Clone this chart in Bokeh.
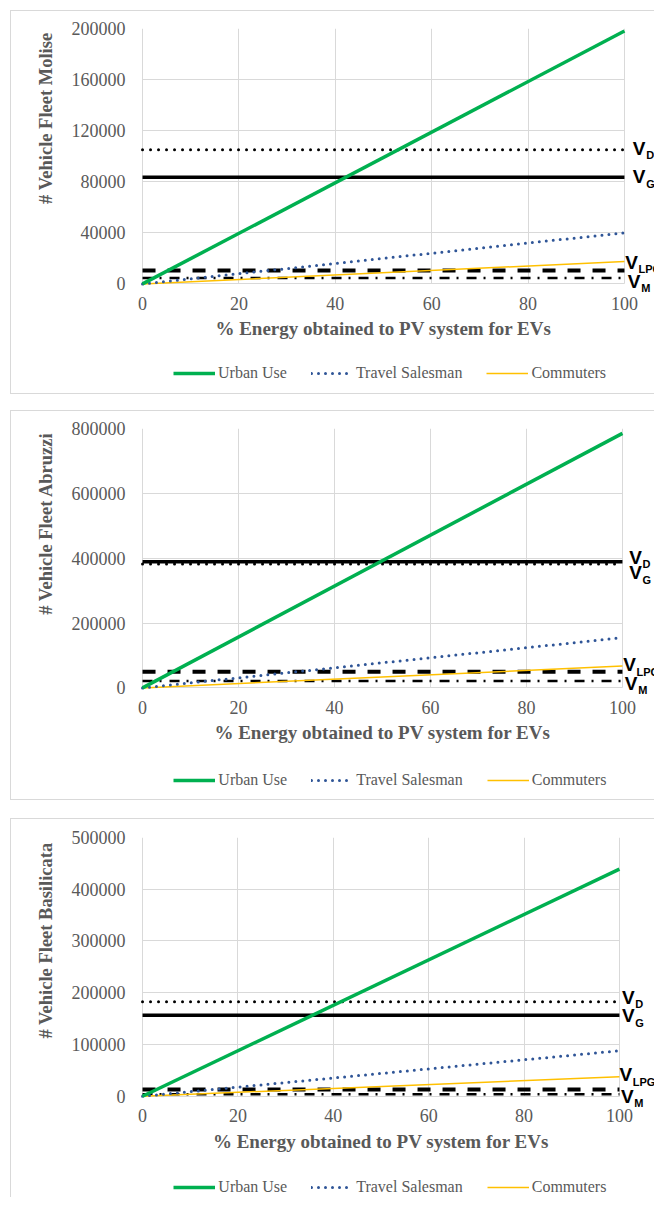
from bokeh.plotting import figure
from bokeh.models import Range1d, FixedTicker, Label, Legend, LegendItem, Title
from bokeh.layouts import column
from bokeh.embed import file_html
from bokeh.resources import INLINE

# ---------------- data ----------------
x_pct = [0, 100]
x_ticks = [0, 20, 40, 60, 80, 100]

regions = ["Molise", "Abruzzi", "Basilicata"]
urban_use = [[0, 198000], [0, 785000], [0, 439000]]
travel_salesman = [[0, 40000], [0, 155000], [0, 88000]]
commuters = [[0, 17500], [0, 67500], [0, 37500]]
v_diesel = [105000, 382000, 182500]
v_gasoline = [83500, 389000, 156500]
v_lpg = [10500, 50000, 13000]
v_methane = [4700, 21000, 4000]
y_max = [200000, 800000, 500000]
y_ticks = [
    [0, 40000, 80000, 120000, 160000, 200000],
    [0, 200000, 400000, 600000, 800000],
    [0, 100000, 200000, 300000, 400000, 500000],
]
series_names = ["Urban Use", "Travel Salesman", "Commuters"]
ref_subscripts = ["D", "G", "LPG", "M"]
x_title = "% Energy obtained to PV system for EVs"

# ---------------- styles / layout (page pixels) ----------------
GRID = "#d9d9d9"
TXT = "#595959"
SERIF = "Liberation Serif"
SANS = "Liberation Sans"
PAGE_W = 654
LEFT_PAD = 15       # frame starts this many px left of x = 0
LH = 20

geom = [
    # border top, x0 px, x100 px, ytop px, y0 px, canvas bottom
    dict(btop=10, x0=142, x100=623, ytop=28, y0=282, cbot=393, bottom_border=True),
    dict(btop=410, x0=141, x100=620, ytop=428, y0=686, cbot=799, bottom_border=True),
    dict(btop=818, x0=141, x100=617, ytop=837, y0=1095, cbot=1197, bottom_border=False),
]
# V label offsets (px from x = 100 / from the line) for D, G, LPG, M
vlab_x = [
    [8.4, 8.4, 0.7, 3.4],
    [6.7, 6.7, 0.7, 2.4],
    [2.6, 2.6, 0.0, 1.6],
]
vlab_dy = [
    [1.3, 0.5, 8.3, -3.5],
    [7.0, -11.0, 6.7, -2.4],
    [4.4, -0.7, 14.6, -2.0],
]
ytitle_off = [4, 3.5, 5]
legend_left = [31, 38, 38]
legend_center_below_y0 = [89, 92, 91]


def make_panel(i, prev_bottom):
    g = geom[i]
    canvas_top = g["btop"] + 1
    canvas_left = 11
    frame_left = g["x0"] - LEFT_PAD
    fw = PAGE_W - frame_left
    fh = g["cbot"] - g["ytop"]
    ppu = (g["x100"] - g["x0"]) / 100.0
    x_start = -LEFT_PAD / ppu
    x_end = 100 + (PAGE_W - g["x100"]) / ppu
    y_start = -(g["cbot"] - g["y0"]) * y_max[i] / (g["y0"] - g["ytop"])

    styles = {"border-top": "1px solid " + GRID, "border-left": "1px solid " + GRID}
    if g["bottom_border"]:
        styles["border-bottom"] = "1px solid " + GRID
    p = figure(frame_width=fw, frame_height=fh, output_backend="svg", toolbar_location=None,
               x_range=Range1d(x_start, x_end), y_range=Range1d(y_start, y_max[i]),
               min_border_left=frame_left - canvas_left, min_border_right=0,
               min_border_top=g["ytop"] - canvas_top, min_border_bottom=0,
               styles=styles, margin=(g["btop"] - prev_bottom, 0, 0, 10))
    p.outline_line_color = None
    p.background_fill_color = "white"
    p.border_fill_color = "white"
    p.xgrid.grid_line_color = GRID
    p.ygrid.grid_line_color = GRID
    p.xgrid.cross_bounds = (0, y_max[i])
    p.ygrid.cross_bounds = (0, 100)
    p.xaxis.ticker = FixedTicker(ticks=x_ticks)
    p.yaxis.ticker = FixedTicker(ticks=y_ticks[i])
    p.xgrid.ticker = FixedTicker(ticks=x_ticks)
    p.ygrid.ticker = FixedTicker(ticks=y_ticks[i])
    p.yaxis.major_label_overrides = {t: str(t) for t in y_ticks[i]}
    p.xaxis.major_label_overrides = {t: str(t) for t in x_ticks}
    p.xaxis.bounds = (0, 100)
    p.yaxis.bounds = (0, y_max[i])
    p.xaxis.fixed_location = 0
    for ax in (p.xaxis[0], p.yaxis[0]):
        ax.axis_line_color = None
        ax.major_tick_line_color = None
        ax.minor_tick_line_color = None
        ax.major_tick_out = 0
        ax.major_tick_in = 0
        ax.minor_tick_out = 0
        ax.minor_tick_in = 0
        ax.major_label_text_font = SERIF
        ax.major_label_text_font_size = "18px"
        ax.major_label_text_color = TXT
    p.yaxis.major_label_standoff = 17 - LEFT_PAD
    p.xaxis.major_label_standoff = 13
    p.xaxis.axis_label = x_title
    p.xaxis.axis_label_text_font = SERIF
    p.xaxis.axis_label_text_font_size = "19px"
    p.xaxis.axis_label_text_font_style = "bold"
    p.xaxis.axis_label_text_color = TXT
    p.xaxis.axis_label_standoff = 5

    # reference horizontal lines
    refs = [v_diesel[i], v_gasoline[i], v_lpg[i], v_methane[i]]
    p.line(x_pct, [v_gasoline[i]] * 2, line_color="black", line_width=3.5)
    p.line(x_pct, [v_diesel[i]] * 2, line_color="black", line_width=3,
           line_dash="0 8", line_cap="round")
    p.line(x_pct, [v_lpg[i]] * 2, line_color="black", line_width=4, line_dash="13 12")
    p.line(x_pct, [v_methane[i]] * 2, line_color="black", line_width=2.5,
           line_dash="10 7 2 8")

    # series
    r_com = p.line(x_pct, commuters[i], line_color="#FFC000", line_width=1.5)
    r_trv = p.line(x_pct, travel_salesman[i], line_color="#2F5597", line_width=3,
                   line_dash="0 7", line_cap="round")
    r_urb = p.line(x_pct, urban_use[i], line_color="#00B050", line_width=3.5)

    # V labels
    for k, sub in enumerate(ref_subscripts):
        dx = vlab_x[i][k]
        dy = vlab_dy[i][k]
        p.add_layout(Label(x=100, y=refs[k], x_offset=dx, y_offset=dy, text="V",
                           text_font=SANS, text_font_style="bold", text_font_size="19px",
                           text_color="black", text_baseline="middle", text_align="left"))
        p.add_layout(Label(x=100, y=refs[k], x_offset=dx + 13.3, y_offset=dy - 6.8,
                           text=sub, text_font=SANS, text_font_style="bold",
                           text_font_size="11px", text_color="black",
                           text_baseline="middle", text_align="left"))

    # y title (left side panel)
    p.add_layout(Title(text="# Vehicle Fleet " + regions[i], align="right",
                       offset=ytitle_off[i], standoff=26, text_font=SERIF,
                       text_font_style="bold", text_font_size="18.5px", text_color=TXT),
                 "left")

    vy = g["cbot"] - g["y0"] - legend_center_below_y0[i] - LH / 2
    legend = Legend(items=[LegendItem(label=series_names[0], renderers=[r_urb]),
                           LegendItem(label=series_names[1], renderers=[r_trv]),
                           LegendItem(label=series_names[2], renderers=[r_com])],
                    orientation="horizontal", location=(legend_left[i] + LEFT_PAD, vy),
                    glyph_width=42, glyph_height=LH, label_height=LH,
                    label_standoff=3, spacing=24, padding=0, margin=0,
                    border_line_color=None, background_fill_alpha=0,
                    label_text_font=SERIF, label_text_font_size="16px",
                    label_text_color=TXT)
    p.add_layout(legend)
    bottom_edge = g["cbot"] + (1 if g["bottom_border"] else 0)
    return p, bottom_edge


panels = []
prev = 0
for i in range(3):
    p, prev = make_panel(i, prev)
    panels.append(p)

layout = column(*panels, spacing=0)

open("out.html", "w").write(file_html(layout, INLINE))
